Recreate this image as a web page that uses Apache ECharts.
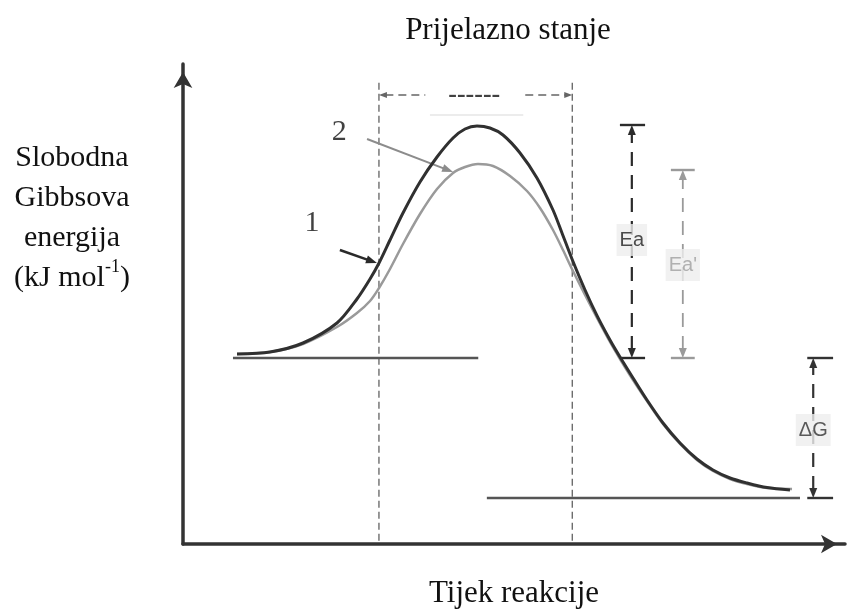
<!DOCTYPE html>
<html>
<head>
<meta charset="utf-8">
<title>Prijelazno stanje</title>
<script src="https://cdn.jsdelivr.net/npm/echarts@6/dist/echarts.min.js"></script>
<style>
  html, body { margin: 0; padding: 0; background: #fff; }
  #chart { width: 848px; height: 615px; }
</style>
</head>
<body>
<div id="chart"></div>
<script>
// reaction coordinate runs 0..100, energy axis 0..120 (arbitrary units)
var curve1X = [8.16, 13.14, 18.13, 23.26, 26.28, 28.25, 29.61, 31.27, 33.23, 35.8, 38.37, 40.79, 42.6, 44.41, 46.37, 48.34, 50.91, 53.47, 55.89, 57.25, 58.76, 60.73, 62.54, 64.5, 66.01, 67.98, 70.09, 72.51, 75.08, 77.64, 80.06, 82.63, 85.2, 88.22, 91.69];
var curve1Y = [47.5, 48.0, 50.25, 55.25, 61.25, 66.25, 70.25, 76.0, 82.75, 90.5, 96.75, 101.5, 103.75, 104.5, 104.0, 102.25, 97.75, 91.5, 83.5, 77.75, 71.25, 63.5, 57.1, 51.0, 46.75, 41.5, 36.0, 30.25, 25.25, 21.25, 18.5, 16.5, 15.25, 14.1, 13.5];
var curve2X = [8.16, 13.14, 18.13, 23.26, 26.28, 28.25, 29.61, 31.27, 33.23, 35.8, 38.37, 40.79, 42.6, 44.56, 46.83, 49.4, 51.96, 53.93, 55.89, 57.4, 58.76, 60.73, 62.54, 64.5, 66.01, 67.98, 70.09, 72.51, 75.08, 77.64, 80.06, 82.63, 85.2, 88.22, 92.0];
var curve2Y = [47.5, 48.0, 50.0, 54.25, 57.75, 60.75, 64.0, 68.75, 75.0, 82.5, 88.75, 92.75, 94.25, 95.0, 94.5, 92.0, 88.25, 84.0, 78.5, 73.5, 68.75, 62.25, 56.5, 50.5, 46.25, 41.0, 35.75, 30.0, 25.0, 21.0, 18.25, 16.25, 15.0, 14.0, 13.75];

var reactantLevel = 46.5;
var productLevel = 11.5;
var reactantSpan = [7.55, 44.6];
var productSpan = [45.9, 93.2];

// transition state region
var tsBounds = [29.6, 58.8];
var tsTop = 115.5;
var tsBracketY = 112.25;
var tsBracketGap = [36.6, 51.7];
var tsText = '------';
var tsTextX = 44;

// energy differences: Ea (curve 1), Ea' (curve 2), ΔG
var dimLabels = ['Ea', "Ea'", 'ΔG'];
var dimX = [67.8, 75.5, 95.2];
var dimLow = [46.5, 46.5, 11.5];
var dimHigh = [104.75, 93.5, 46.5];
var dimCapFrom = [66.0, 73.7, 94.3];
var dimCapTo = [69.8, 77.3, 98.2];
var dimLabelY = [76, 69.75, 28.5];

// curve numbers and their pointers
var curveNames = ['1', '2'];
var curveNameX = [19.5, 23.6];
var curveNameY = [80.25, 103];
var pointerFrom = [[23.7, 73.5], [27.8, 101.25]];
var pointerTo = [[29.3, 70.25], [40.8, 93.0]];

var serif = '"Liberation Serif", "Times New Roman", serif';
var sans = '"Liberation Sans", Arial, sans-serif';

function zip(xs, ys) {
  return xs.map(function (x, i) { return [x, ys[i]]; });
}

// segment: [x1, y1, x2, y2, headAtStart, headAtEnd]
function segmentSeries(name, segs, color, width, dash, headW, headL) {
  return {
    type: 'custom',
    name: name,
    silent: true,
    data: segs,
    renderItem: function (params, api) {
      var a = api.coord([api.value(0), api.value(1)]);
      var b = api.coord([api.value(2), api.value(3)]);
      var dx = b[0] - a[0], dy = b[1] - a[1];
      var len = Math.sqrt(dx * dx + dy * dy) || 1;
      var ux = dx / len, uy = dy / len;
      var s = a, e = b;
      var kids = [];
      function head(tip, ex, ey) {
        var bx = tip[0] - ex * headL, by = tip[1] - ey * headL;
        return {
          type: 'polygon',
          shape: { points: [tip, [bx - ey * headW / 2, by + ex * headW / 2], [bx + ey * headW / 2, by - ex * headW / 2]] },
          style: { fill: color }
        };
      }
      if (api.value(4)) { kids.push(head(a, -ux, -uy)); s = [a[0] + ux * headL * 0.8, a[1] + uy * headL * 0.8]; }
      if (api.value(5)) { kids.push(head(b, ux, uy)); e = [b[0] - ux * headL * 0.8, b[1] - uy * headL * 0.8]; }
      kids.unshift({
        type: 'line',
        shape: { x1: s[0], y1: s[1], x2: e[0], y2: e[1] },
        style: { stroke: color, lineWidth: width, lineDash: dash || null }
      });
      return { type: 'group', children: kids };
    }
  };
}

function dimSegs(i) {
  return [[dimX[i], dimLow[i], dimX[i], dimHigh[i], 1, 1]];
}
function capSegs(i) {
  return [
    [dimCapFrom[i], dimLow[i], dimCapTo[i], dimLow[i], 0, 0],
    [dimCapFrom[i], dimHigh[i], dimCapTo[i], dimHigh[i], 0, 0]
  ];
}

var dimColors = ['#2b2b2b', '#9a9a9a', '#333333'];
var dimTextColors = ['#222222', '#a0a0a0', '#333333'];

var chart = echarts.init(document.getElementById('chart'));

var series = [
  segmentSeries('tsLines', tsBounds.map(function (x) { return [x, 0.8, x, tsTop, 0, 0]; }), '#555', 1.2, [7, 4], 0, 0),
  segmentSeries('tsBracket', [
    [tsBounds[0], tsBracketY, tsBracketGap[0], tsBracketY, 1, 0],
    [tsBracketGap[1], tsBracketY, tsBounds[1], tsBracketY, 0, 1]
  ], '#666', 1.6, [8, 5], 6, 8),
  segmentSeries('faint', [[37.3, 107.25, 51.4, 107.25, 0, 0]], '#ececec', 2, null, 0, 0),
  {
    type: 'line', name: 'reactants', silent: true, symbol: 'none',
    data: reactantSpan.map(function (x) { return [x, reactantLevel]; }),
    lineStyle: { color: '#555', width: 2.5 }
  },
  {
    type: 'line', name: 'products', silent: true, symbol: 'none',
    data: productSpan.map(function (x) { return [x, productLevel]; }),
    lineStyle: { color: '#555', width: 2.5 }
  },
  {
    type: 'line', name: '2', silent: true, symbol: 'none', smooth: 0.3,
    data: zip(curve2X, curve2Y),
    lineStyle: { color: '#9a9a9a', width: 2.5 }
  },
  {
    type: 'line', name: '1', silent: true, symbol: 'none', smooth: 0.3,
    data: zip(curve1X, curve1Y),
    lineStyle: { color: '#303030', width: 3 }
  }
];

dimLabels.forEach(function (lab, i) {
  var w = i === 1 ? 1.8 : 2.2;
  series.push(segmentSeries('dim' + i, dimSegs(i), dimColors[i], w, [14, 9], 8, 10));
  series.push(segmentSeries('cap' + i, capSegs(i), dimColors[i], 2.4, null, 0, 0));
});

series.push(segmentSeries('pointer1', [[pointerFrom[0][0], pointerFrom[0][1], pointerTo[0][0], pointerTo[0][1], 0, 1]], '#2a2a2a', 2.5, null, 8, 11));
series.push(segmentSeries('pointer2', [[pointerFrom[1][0], pointerFrom[1][1], pointerTo[1][0], pointerTo[1][1], 0, 1]], '#8c8c8c', 2, null, 8, 11));

series.push({
  type: 'scatter', name: 'dimLabels', silent: true, symbolSize: 1,
  itemStyle: { color: 'rgba(0,0,0,0)' },
  z: 10,
  data: dimLabels.map(function (lab, i) {
    return {
      value: [dimX[i], dimLabelY[i]], name: lab,
      label: { color: dimTextColors[i] }
    };
  }),
  label: {
    show: true, position: 'inside', formatter: '{b}',
    fontFamily: sans, fontSize: 20, backgroundColor: '#ededed',
    padding: [7, 3, 5, 3]
  }
});

series.push({
  type: 'scatter', name: 'curveNames', silent: true, symbolSize: 1,
  itemStyle: { color: 'rgba(0,0,0,0)' },
  z: 10,
  data: curveNames.map(function (n, i) {
    return { value: [curveNameX[i], curveNameY[i]], name: n };
  }).concat([{ value: [tsTextX, tsBracketY], name: tsText, label: { fontSize: 26, fontWeight: 'bold' } }]),
  label: {
    show: true, position: 'inside', formatter: '{b}',
    fontFamily: serif, fontSize: 30, color: '#111'
  }
});

chart.setOption({
  animation: false,
  backgroundColor: '#fff',
  title: {
    text: 'Prijelazno stanje',
    left: 503, top: 10, textAlign: 'center',
    textStyle: { fontFamily: serif, fontSize: 31, fontWeight: 'normal', color: '#111' }
  },
  grid: { left: 183, right: 3, top: 64, bottom: 71 },
  xAxis: {
    type: 'value', min: 0, max: 100,
    name: 'Tijek reakcije', nameLocation: 'middle', nameGap: 34,
    nameTextStyle: { fontFamily: serif, fontSize: 31, color: '#111' },
    axisLine: {
      show: true, symbol: ['none', 'arrow'], symbolSize: [14, 16], symbolOffset: [0, -8],
      lineStyle: { color: '#333', width: 3.5 }
    },
    axisTick: { show: false }, axisLabel: { show: false }, splitLine: { show: false }
  },
  yAxis: {
    type: 'value', min: 0, max: 120,
    axisLine: {
      show: true, symbol: ['none', 'arrow'], symbolSize: [14, 16], symbolOffset: [0, -8],
      lineStyle: { color: '#333', width: 3.5 }
    },
    axisTick: { show: false }, axisLabel: { show: false }, splitLine: { show: false }
  },
  graphic: [{
    type: 'text',
    x: 72, y: 138,
    silent: true,
    style: {
      text: 'Slobodna\nGibbsova\nenergija\n(kJ mol{sup|-1})',
      align: 'center', verticalAlign: 'top',
      textAlign: 'center', textVerticalAlign: 'top',
      fontFamily: serif, fontSize: 30, lineHeight: 40, fill: '#111',
      rich: {
        sup: { fontFamily: serif, fontSize: 18, lineHeight: 30, verticalAlign: 'top', fill: '#111' }
      }
    }
  }],
  series: series
});
</script>
</body>
</html>
